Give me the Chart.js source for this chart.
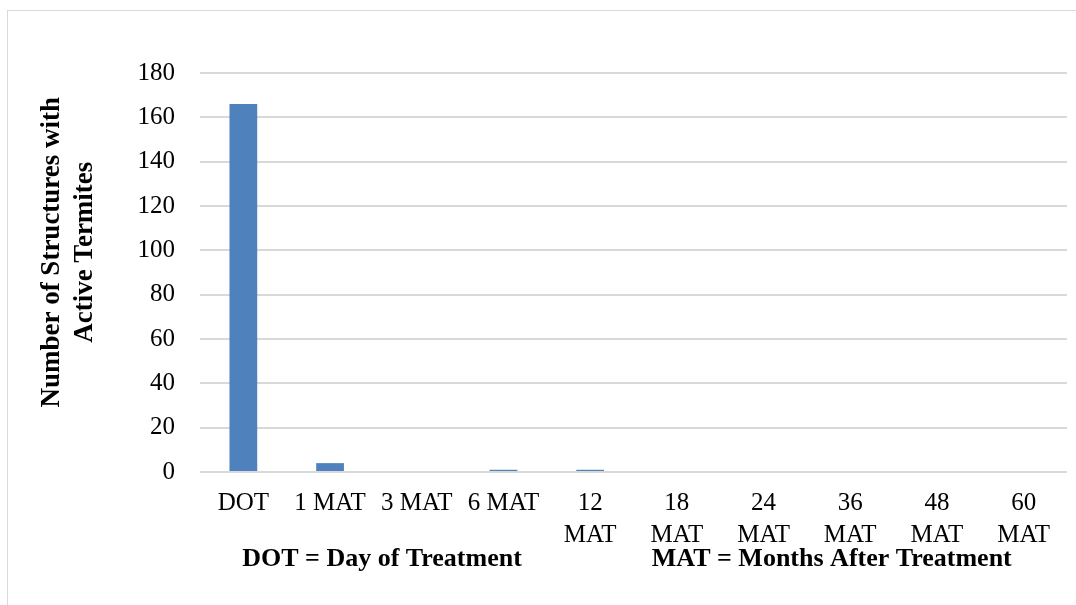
<!DOCTYPE html>
<html>
<head>
<meta charset="utf-8">
<script src="https://cdn.jsdelivr.net/npm/chart.js@4/dist/chart.umd.min.js"></script>
<style>
  body { margin: 0; background: #fff; }
  #wrap { position: relative; width: 1076px; height: 605px; overflow: hidden; }
  #frame { position: absolute; left: 7px; top: 10px; width: 1200px; height: 700px; border: 1px solid #d9d9d9; }
  #my-chart { position: absolute; left: 0; top: 0; }
</style>
</head>
<body>
<div id="wrap">
  <div id="frame"></div>
  <canvas id="my-chart" width="1076" height="605"></canvas>
</div>
<script>
const categories = ['DOT', '1 MAT', '3 MAT', '6 MAT', ['12', 'MAT'], ['18', 'MAT'], ['24', 'MAT'], ['36', 'MAT'], ['48', 'MAT'], ['60', 'MAT']];
const structures = [166, 4, 0, 1, 1, 0, 0, 0, 0, 0];
const yTicks = [0, 20, 40, 60, 80, 100, 120, 140, 160, 180];

const serif = "'Liberation Serif', 'Times New Roman', serif";

var ctx = document.getElementById('my-chart').getContext('2d');

let myChart = new Chart(ctx, {
    type: 'bar',
    data: {
        labels: categories,
        datasets: [
            {
                label: 'Number of Structures with Active Termites',
                data: structures,
                backgroundColor: '#4f81bd',
                borderWidth: 0,
                barPercentage: 0.32,
                categoryPercentage: 1,
            },
        ],
    },
    options: {
        responsive: false,
        animation: false,
        layout: { padding: { left: 0, top: 73, right: 9, bottom: 0 } },
        plugins: {
            legend: { display: false },
            tooltip: { enabled: false },
        },
        scales: {
            x: {
                grid: { display: false, drawTicks: false },
                border: { display: false },
                ticks: {
                    color: '#000',
                    font: { family: serif, size: 25, lineHeight: 1.3 },
                    padding: 15,
                    maxRotation: 0,
                    autoSkip: false,
                },
                title: {
                    display: true,
                    text: 'DOT = Day of Treatment                    MAT = Months After Treatment  ',
                    color: '#000',
                    font: { family: serif, size: 26, weight: 'bold', lineHeight: 1.2 },
                    padding: { top: 0, bottom: 30 },
                },
                afterFit: (scale) => { scale.height = 133; },
            },
            y: {
                min: 0,
                max: 180,
                afterBuildTicks: (scale) => { scale.ticks = yTicks.map(v => ({ value: v })); },
                grid: { color: '#d9d9d9', lineWidth: 2, drawTicks: false },
                border: { display: false },
                ticks: {
                    color: '#000',
                    font: { family: serif, size: 25 },
                    padding: 25,
                },
                title: {
                    display: true,
                    text: ['      Number of Structures with', '      Active Termites'],
                    color: '#000',
                    font: { family: serif, size: 27, weight: 'bold', lineHeight: 1.2 },
                    padding: { top: 36, bottom: 0 },
                },
                afterFit: (scale) => { scale.width = 200; },
            },
        },
    },
});
</script>
</body>
</html>
